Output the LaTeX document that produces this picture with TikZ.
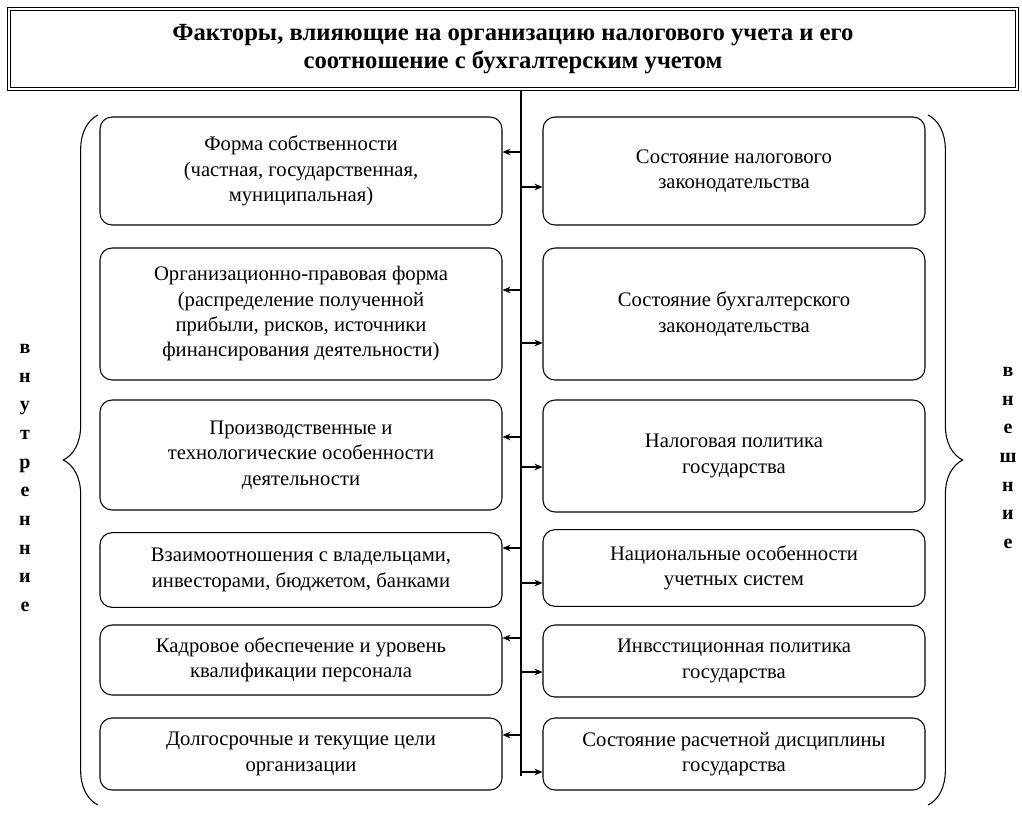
\documentclass[tikz,border=0pt]{standalone}
\usepackage{fontspec}
\setmainfont{Liberation Serif}
\usetikzlibrary{arrows.meta,decorations.pathreplacing}
\tikzset{%
  >={Stealth[width=5pt,length=6pt]},
            base/.style = {rectangle, rounded corners=9pt, draw=black, thick,
                           text centered, align=center,
                           font=\fontsize{15.5}{19}\selectfont},
  lbox/.style = {base, minimum width=301.5pt},
  rbox/.style = {base, minimum width=286.5pt},
  side/.style = {align=center, font=\fontsize{15}{21.5}\selectfont\bfseries},
}
\begin{document}
\begin{tikzpicture}[x=0.75pt,y=-0.75pt]
  \useasboundingbox (0,0) rectangle (1022,815);

  % title
  \node (title) [draw, thick, double, double distance=2pt, minimum width=756pt, minimum height=60pt,
                 align=center, font=\fontsize{18.5}{21}\selectfont\bfseries] at (513,49)
        {Факторы, влияющие на организацию налогового учета и его\\соотношение с бухгалтерским учетом};
  \coordinate (axisEnd) at (521,776);
  \draw[thick] (title.south -| axisEnd) -- (axisEnd);

  % internal factors
  \node (l1) [lbox, minimum height=81pt]   at (301,171) {Форма собственности\\(частная, государственная,\\муниципальная)};
  \node (l2) [lbox, minimum height=99pt]   at (301,314) {Организационно-правовая форма\\(распределение полученной\\прибыли, рисков, источники\\финансирования деятельности)};
  \node (l3) [lbox, minimum height=82.5pt] at (301,455) {Производственные и\\технологические особенности\\деятельности};
  \node (l4) [lbox, minimum height=56pt]   at (301,570) {Взаимоотношения с владельцами,\\инвесторами, бюджетом, банками};
  \node (l5) [lbox, minimum height=52.5pt] at (301,660) {Кадровое обеспечение и уровень\\квалификации персонала};
  \node (l6) [lbox, minimum height=54pt]   at (301,754) {Долгосрочные и текущие цели\\организации};

  % external factors
  \node (r1) [rbox, minimum height=81pt]   at (734,171) {Состояние налогового\\законодательства};
  \node (r2) [rbox, minimum height=99pt]   at (734,314) {Состояние бухгалтерского\\законодательства};
  \node (r3) [rbox, minimum height=84pt]   at (734,456) {Налоговая политика\\государства};
  \node (r4) [rbox, minimum height=57.5pt] at (734,568) {Национальные особенности\\учетных систем};
  \node (r5) [rbox, minimum height=54pt]   at (734,661) {Инвсстиционная политика\\государства};
  \node (r6) [rbox, minimum height=54pt]   at (734,754) {Состояние расчетной дисциплины\\государства};

  % arrows from the axis
  \foreach \n/\y in {l1/152, l2/290, l3/437, l4/548, l5/638, l6/735} {
    \coordinate (a\n) at (521,\y);
    \draw[->, thick] (a\n) -- (a\n -| \n.east);
  }
  \foreach \n/\y in {r1/187, r2/343, r3/467, r4/583, r5/672, r6/772} {
    \coordinate (a\n) at (521,\y);
    \draw[->, thick] (a\n) -- (a\n -| \n.west);
  }

  % braces
  \draw[thick, decorate, decoration={brace, amplitude=26pt}] (98,805) -- (98,115);
  \draw[thick, decorate, decoration={brace, amplitude=26pt}] (928,115) -- (928,805);
  \node (inner) [side] at (25,478) {в\\н\\у\\т\\р\\е\\н\\н\\и\\е};
  \node (outer) [side] at (1008,458) {в\\н\\е\\ш\\н\\и\\е};
\end{tikzpicture}
\end{document}
